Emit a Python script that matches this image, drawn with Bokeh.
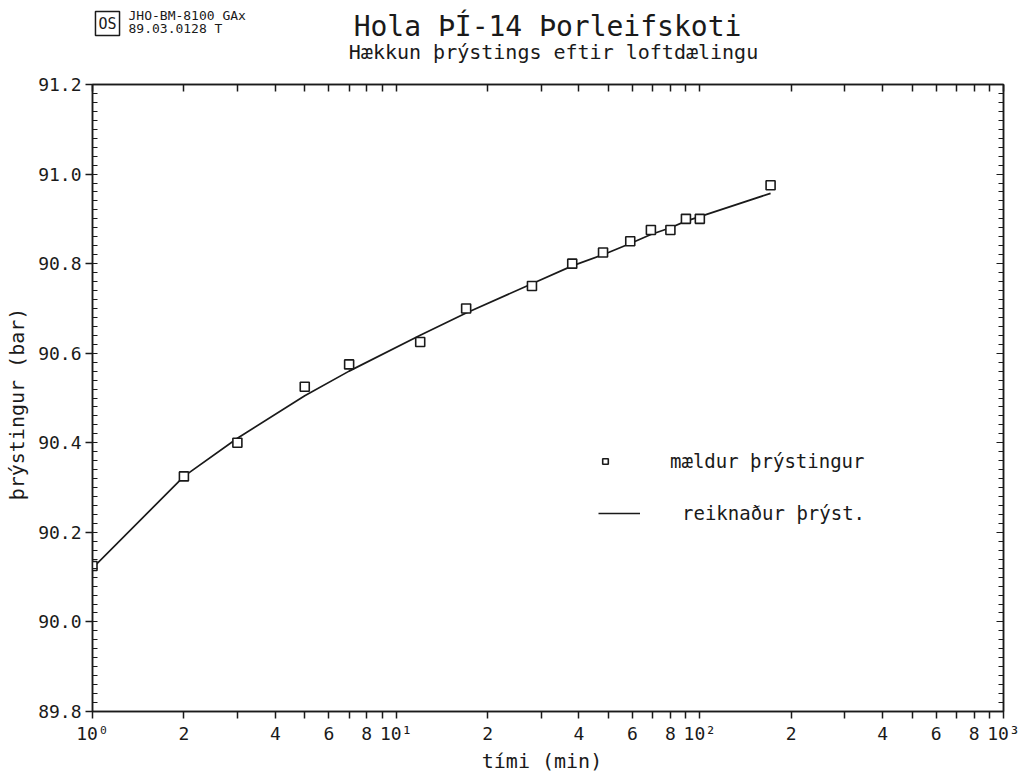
from bokeh.plotting import figure
from bokeh.layouts import column
from bokeh.models import (FixedTicker, PrintfTickFormatter, CustomJSTickFormatter, LogAxis,
                          LinearAxis, Label, Legend, LegendItem, Range1d)
from bokeh.embed import file_html
from bokeh.resources import INLINE

# ---- data ----
time_min = [1, 2, 3, 5, 7, 12, 17, 28, 38, 48, 59, 69, 80, 90, 100, 171]
p_measured = [90.125, 90.325, 90.40, 90.525, 90.575, 90.625, 90.70, 90.75,
              90.80, 90.825, 90.85, 90.875, 90.875, 90.90, 90.90, 90.975]
p_calc = [90.12, 90.325, 90.41, 90.505, 90.56, 90.64, 90.69, 90.755,
          90.795, 90.82, 90.845, 90.865, 90.88, 90.895, 90.905, 90.957]

x_ticks = [1, 2, 3, 4, 5, 6, 7, 8, 9, 10, 20, 30, 40, 50, 60, 70, 80, 90, 100,
           200, 300, 400, 500, 600, 700, 800, 900, 1000]
x_tick_labels = ["10⁰", "2", "", "4", "", "6", "", "8", "", "10¹", "2", "", "4", "", "6", "", "8", "",
                 "10²", "2", "", "4", "", "6", "", "8", "", "10³"]
y_ticks = [89.8, 90.0, 90.2, 90.4, 90.6, 90.8, 91.0, 91.2]
y_minor = [round(89.8 + 0.02 * i, 2) for i in range(71)]

title = "Hola ÞÍ-14 Þorleifskoti"
subtitle = "Hækkun þrýstings eftir loftdælingu"
header1 = "JHO-BM-8100 GAx"
header2 = "89.03.0128  T"
logo = "OS"
xlabel = "tími  (min)"
ylabel = "þrýstingur  (bar)"
leg_meas = "mældur þrýstingur"
leg_calc = "reiknaður þrýst."

FONT = "DejaVu Sans Mono"
INK = "#1a1a1a"
W = 1031
HEAD_H = 73
FRAME_L, FRAME_R = 92, 1003

# ---- header strip (titles); its frame is aligned with the main frame ----
h = figure(width=W, height=HEAD_H, output_backend="svg", toolbar_location=None,
           x_range=Range1d(FRAME_L, FRAME_R), y_range=Range1d(HEAD_H, 0),
           min_border=0, x_axis_location=None, y_axis_location=None)
h.grid.visible = False
h.outline_line_color = None
h.background_fill_color = "white"
h.border_fill_color = "white"

def lab(text, x, y, size, align="left", **kw):
    h.add_layout(Label(text=text, x=x, y=y, text_font=FONT, text_font_size=size,
                       text_color=INK, text_align=align, text_baseline="middle", **kw))

lab(title, 547, 26, "28px", "center")
lab(subtitle, 553, 51, "20px", "center")
lab(header1, 128, 15, "13px")
lab(header2, 128, 28, "13px")
lab(logo, 107, 23, "15px", "center", border_line_color=INK, border_line_width=1.5, padding=3)

# ---- main plot ----
p = figure(width=W, height=775 - HEAD_H, x_axis_type="log", output_backend="svg",
           toolbar_location=None, x_range=Range1d(1, 1000), y_range=Range1d(89.8, 91.2),
           min_border_left=FRAME_L, min_border_right=W - FRAME_R, min_border_top=11,
           min_border_bottom=60)
p.grid.visible = False
p.outline_line_color = INK
p.outline_line_width = 1.5
p.background_fill_color = "white"
p.border_fill_color = "white"

fmt_code = """
for (let i = 0; i < xt.length; i++) {
  if (Math.abs(xt[i] - tick) < 1e-6 * xt[i]) return xl[i];
}
return '';
"""
xfmt = CustomJSTickFormatter(args=dict(xt=x_ticks, xl=x_tick_labels), code=fmt_code)

# bottom axis
xa = p.xaxis[0]
xa.ticker = FixedTicker(ticks=x_ticks, minor_ticks=[])
xa.formatter = xfmt
xa.major_tick_out = 7
xa.major_tick_in = 0
xa.axis_line_width = 1.5
xa.axis_line_color = INK
xa.major_tick_line_color = INK
xa.major_tick_line_width = 1.5
xa.major_label_text_font = FONT
xa.major_label_text_font_size = "18px"
xa.major_label_text_color = INK
xa.major_label_standoff = 4
xa.axis_label = xlabel
xa.axis_label_text_font = FONT
xa.axis_label_text_font_size = "20px"
xa.axis_label_text_font_style = "normal"
xa.axis_label_text_color = INK
xa.axis_label_standoff = 2

# top axis (ticks only)
ta = LogAxis(ticker=FixedTicker(ticks=x_ticks, minor_ticks=[]))
ta.major_tick_in = 7
ta.major_tick_out = 0
ta.major_label_text_alpha = 0
ta.major_label_text_font_size = "1px"
ta.major_label_standoff = 0
ta.axis_line_width = 1.5
ta.axis_line_color = INK
ta.major_tick_line_color = INK
ta.major_tick_line_width = 1.5
p.add_layout(ta, "above")

# left axis
ya = p.yaxis[0]
ya.ticker = FixedTicker(ticks=y_ticks, minor_ticks=y_minor)
ya.formatter = PrintfTickFormatter(format="%.1f")
ya.major_tick_out = 7
ya.major_tick_in = 0
ya.minor_tick_in = 5
ya.minor_tick_out = 0
ya.axis_line_width = 1.5
ya.axis_line_color = INK
ya.major_tick_line_color = INK
ya.major_tick_line_width = 1.5
ya.minor_tick_line_color = INK
ya.minor_tick_line_width = 1.2
ya.major_label_text_font = FONT
ya.major_label_text_font_size = "18px"
ya.major_label_text_color = INK
ya.major_label_standoff = 4
ya.axis_label = ylabel
ya.axis_label_text_font = FONT
ya.axis_label_text_font_size = "20px"
ya.axis_label_text_font_style = "normal"
ya.axis_label_text_color = INK
ya.axis_label_standoff = 6

# right axis (ticks only)
ra = LinearAxis(ticker=FixedTicker(ticks=y_ticks, minor_ticks=y_minor))
ra.major_tick_in = 7
ra.major_tick_out = 0
ra.minor_tick_in = 5
ra.minor_tick_out = 0
ra.major_label_text_alpha = 0
ra.major_label_text_font_size = "1px"
ra.major_label_standoff = 0
ra.axis_line_width = 1.5
ra.axis_line_color = INK
ra.major_tick_line_color = INK
ra.minor_tick_line_color = INK
ra.minor_tick_line_width = 1.2
p.add_layout(ra, "right")

# data
line_r = p.line(time_min, p_calc, line_color=INK, line_width=1.7)
pts_r = p.scatter(time_min, p_measured, marker="square", size=9, fill_color="white",
                  line_color=INK, line_width=1.6)

# legends (two, to mimic the separate offsets)
leg1 = Legend(items=[LegendItem(label=leg_meas, renderers=[pts_r])], location=(506, 239),
              glyph_width=14, glyph_height=20, label_height=20, label_standoff=58,
              padding=0, margin=0, border_line_color=None, background_fill_alpha=0,
              label_text_font=FONT, label_text_font_size="19px", label_text_color=INK)
leg2 = Legend(items=[LegendItem(label=leg_calc, renderers=[line_r])], location=(506, 187),
              glyph_width=42, glyph_height=20, label_height=20, label_standoff=42,
              padding=0, margin=0, border_line_color=None, background_fill_alpha=0,
              label_text_font=FONT, label_text_font_size="19px", label_text_color=INK)
p.add_layout(leg1, "center")
p.add_layout(leg2, "center")

layout = column(h, p, spacing=0)
open("out.html", "w").write(file_html(layout, INLINE))
